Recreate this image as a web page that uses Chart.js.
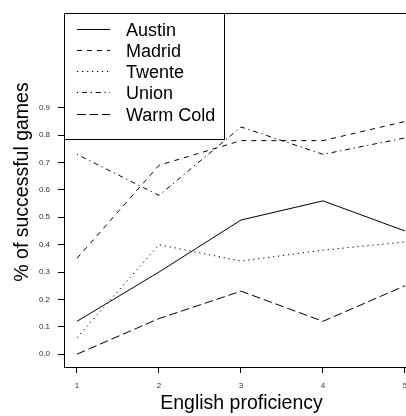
<!DOCTYPE html>
<html>
<head>
<meta charset="utf-8">
<script src="https://cdn.jsdelivr.net/npm/chart.js@4.4.0/dist/chart.umd.min.js"></script>
<style>
  html, body { margin: 0; padding: 0; background: #fff; overflow: hidden; }
  #wrap { width: 420px; height: 416px; }
</style>
</head>
<body>
<div id="wrap"><canvas id="chart" width="420" height="416"></canvas></div>
<script>
"use strict";

// English proficiency levels
const levels = [1, 2, 3, 4, 5];
const yTicks = [0, 0.1, 0.2, 0.3, 0.4, 0.5, 0.6, 0.7, 0.8, 0.9];

const austin = [0.12, 0.30, 0.49, 0.56, 0.45];
const madrid = [0.35, 0.69, 0.78, 0.78, 0.85];
const twente = [0.06, 0.40, 0.34, 0.38, 0.41];
const union = [0.73, 0.58, 0.83, 0.73, 0.79];
const warmCold = [0.00, 0.13, 0.23, 0.12, 0.25];

const seriesNames = ["Austin", "Madrid", "Twente", "Union", "Warm Cold"];
const seriesValues = [austin, madrid, twente, union, warmCold];
const dashes = [[], [5, 5], [1.25, 3.75], [1.25, 3.75, 5, 3.75], [8.75, 3.75]];

const FONT = "Liberation Sans, Arial, Helvetica, sans-serif";

const datasets = seriesNames.map((name, i) => ({
  label: name,
  data: levels.map((lv, j) => ({ x: lv, y: seriesValues[i][j] })),
  borderColor: "#000",
  borderWidth: 1,
  borderDash: dashes[i],
  pointRadius: 0,
  fill: false,
  tension: 0,
}));

// frame box, R-style legend and axis titles
const framePlugin = {
  id: "frame",
  afterDatasetsDraw(chart) {
    const { ctx, chartArea } = chart;
    ctx.save();
    ctx.strokeStyle = "#000";
    ctx.lineWidth = 1;
    ctx.setLineDash([]);
    ctx.strokeRect(
      Math.round(chartArea.left) + 0.5,
      Math.round(chartArea.top) + 0.5,
      Math.round(chartArea.right - chartArea.left) - 1,
      Math.round(chartArea.bottom - chartArea.top)
    );

    // legend
    const lx = Math.round(chartArea.left) + 0.5;
    const ly = Math.round(chartArea.top) + 0.5;
    ctx.fillStyle = "#fff";
    ctx.fillRect(lx, ly, 160, 126);
    ctx.strokeRect(lx, ly, 160, 126);
    ctx.font = "18px " + FONT;
    ctx.textBaseline = "alphabetic";
    ctx.textAlign = "left";
    chart.data.datasets.forEach((ds, i) => {
      const y = Math.round(28.7 + i * 21.2) + 0.5;
      ctx.beginPath();
      ctx.setLineDash(ds.borderDash);
      ctx.moveTo(77, y);
      ctx.lineTo(110, y);
      ctx.stroke();
      ctx.setLineDash([]);
      ctx.fillStyle = "#000";
      ctx.fillText(ds.label, 126, y + 6.8);
    });

    // axis titles
    ctx.fillStyle = "#000";
    ctx.font = "19.5px " + FONT;
    ctx.textAlign = "center";
    ctx.fillText("English proficiency", 241.5, 409);
    ctx.translate(28, 182);
    ctx.rotate(-Math.PI / 2);
    ctx.fillText("% of successful games", 0, 0);
    ctx.restore();
  },
};

new Chart(document.getElementById("chart"), {
  type: "line",
  data: { datasets },
  plugins: [framePlugin],
  options: {
    responsive: false,
    animation: false,
    layout: { padding: { top: 8, right: 0, bottom: 0, left: 0 } },
    plugins: {
      legend: { display: false },
      tooltip: { enabled: false },
    },
    scales: {
      x: {
        type: "linear",
        min: 0.8415,
        max: 5.183,
        afterBuildTicks: (scale) => {
          scale.ticks = levels.map((v) => ({ value: v }));
        },
        afterFit: (scale) => {
          scale.height = 49;
        },
        border: { display: false },
        grid: {
          drawOnChartArea: false,
          drawTicks: true,
          tickLength: 6,
          color: "#000",
        },
        ticks: {
          padding: 8,
          color: "#333",
          font: { family: FONT, size: 8 },
          maxRotation: 0,
          callback: (v) => String(v),
        },
      },
      y: {
        type: "linear",
        min: -0.0469,
        max: 1.247,
        afterBuildTicks: (scale) => {
          scale.ticks = yTicks.map((v) => ({ value: v }));
        },
        afterFit: (scale) => {
          scale.width = 64;
        },
        border: { display: false },
        grid: {
          drawOnChartArea: false,
          drawTicks: true,
          tickLength: 6,
          color: "#000",
        },
        ticks: {
          padding: 8,
          color: "#333",
          font: { family: FONT, size: 8 },
          callback: (v) => v.toFixed(1),
        },
      },
    },
  },
});
</script>
</body>
</html>
